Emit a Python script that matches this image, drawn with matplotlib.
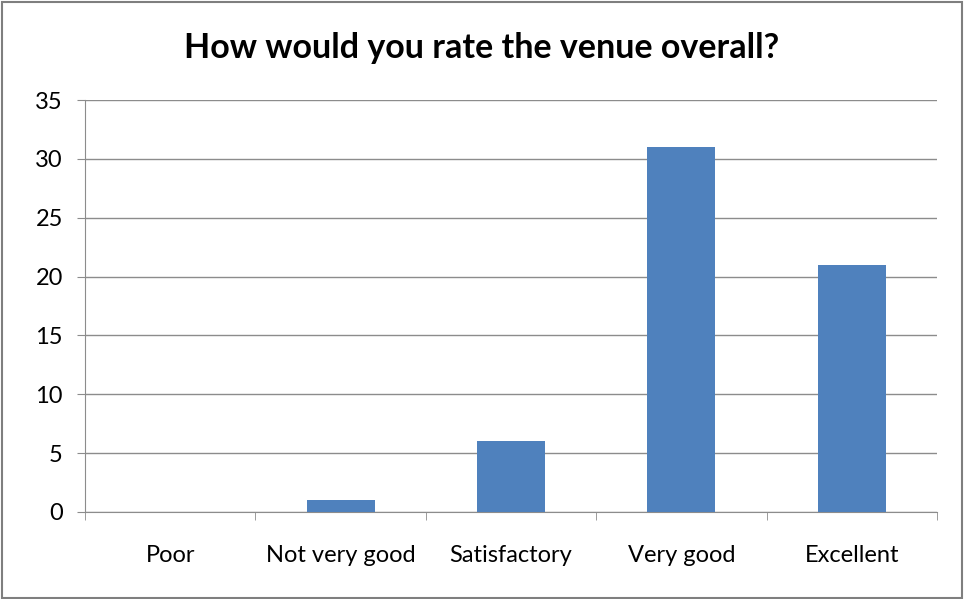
import matplotlib.pyplot as plt
from matplotlib.patches import Rectangle
import numpy as np

# Survey answers
categories = ['Poor', 'Not very good', 'Satisfactory', 'Very good', 'Excellent']
counts = [0, 1, 6, 31, 21]
yticks = [0, 5, 10, 15, 20, 25, 30, 35]

plt.rcParams['font.family'] = ['Lato', 'DejaVu Sans']

fig = plt.figure(figsize=(9.64, 5.99), dpi=100)
ax = fig.add_axes([85 / 964, 87 / 599, 852 / 964, 412 / 599])

x = np.arange(len(categories))
ax.bar(x, counts, width=0.4, color='#4F81BD', zorder=3)

ax.set_xlim(-0.5, len(categories) - 0.5)
ax.set_ylim(0, 35)
ax.set_yticks(yticks)
ax.set_yticklabels([str(t) for t in yticks], fontsize=17)
ax.yaxis.grid(True, color='#8c8c8c', linewidth=1, zorder=0)

# category labels centred, ticks on the boundaries
ax.set_xticks(x)
ax.set_xticklabels(categories, fontsize=17)
ax.tick_params(axis='x', length=0, pad=24)
ax.set_xticks(np.arange(-0.5, len(categories)), minor=True)
ax.tick_params(axis='x', which='minor', length=6, color='#8c8c8c', direction='out')
ax.tick_params(axis='y', length=6, color='#8c8c8c', direction='out', pad=10)

for side in ['top', 'right']:
    ax.spines[side].set_visible(False)
for side in ['left', 'bottom']:
    ax.spines[side].set_color('#8c8c8c')

fig.text(0.5, 1 - 48 / 599, 'How would you rate the venue overall?',
         ha='center', va='center', fontsize=24.5, fontweight='bold')

# outer frame
fig.patches.append(Rectangle((0.002, 0.002), 0.996, 0.994, transform=fig.transFigure,
                             fill=False, edgecolor='#7f7f7f', linewidth=1.5))

plt.savefig('out.png', dpi=100)
